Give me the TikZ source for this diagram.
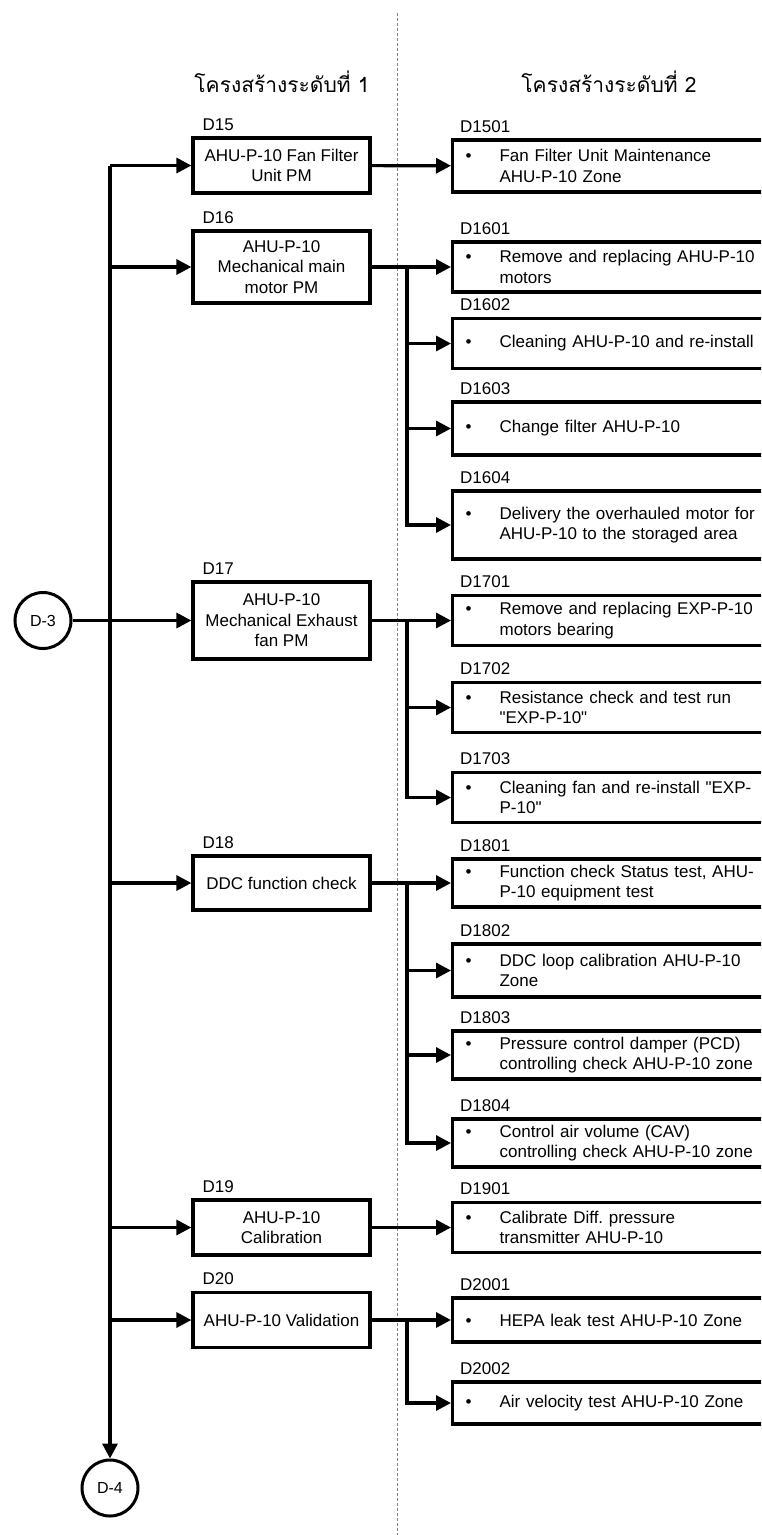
\documentclass[tikz,border=0pt]{standalone}
\usepackage{fontspec}
\setmainfont{Liberation Sans}[Ligatures=TeXOff]
\newfontfamily\thaifont[Script=Thai]{Loma}
\usetikzlibrary{arrows.meta,positioning}
\newcommand{\bul}{\llap{\textbullet\hspace{28pt}}}

\begin{document}
\begin{tikzpicture}[
  x=1pt, y=-1pt,
  txt/.style={font=\fontsize{17}{20.5}\selectfont},
  task/.style={txt,draw,line width=3.2pt,minimum width=177pt,minimum height=55pt,align=center,inner sep=2pt},
  sub/.style={txt,draw,line width=3.2pt,anchor=west,text width=275pt,inner xsep=47pt,inner ysep=2pt,minimum height=50pt,align=left},
  lbl/.style={txt,anchor=base west,inner sep=0pt},
  idtag/.style={label={[lbl,xshift=11pt,yshift=6pt]north west:#1}},
  subtag/.style={label={[lbl,xshift=9pt,yshift=6pt]north west:#1}},
  conn/.style={draw,circle,line width=3pt,minimum size=56pt,inner sep=0pt,font=\fontsize{16}{16}\selectfont},
  head/.style={font=\thaifont\fontsize{21}{21}\selectfont},
  arr/.style={line width=3.2pt,-{Triangle[length=15pt,width=15pt]}},
  divider/.style={gray,line width=0.6pt,dash pattern=on 3pt off 2pt}
]
  \useasboundingbox[fill=white] (0,0) rectangle (761,1535);
  \clip (0,0) rectangle (761,1535);

  \draw[divider] (397,13) -- (397,1535);

  % headers
  \node[head] (head1) at (282,82) {โครงสร้างระดับที่ 1};
  \node[head] (head2) at (609,82) {โครงสร้างระดับที่ 2};

  % level 1
  \node[task,idtag=D15] (d15) at (281.5,165.5) {AHU-P-10 Fan Filter\\Unit PM};
  \node[task,idtag=D16,minimum height=72pt] (d16) at (281.5,267) {AHU-P-10\\Mechanical main\\motor PM};
  \node[task,idtag=D17,minimum height=77pt] (d17) at (281.5,620.5) {AHU-P-10\\Mechanical Exhaust\\fan PM};
  \node[task,idtag=D18,minimum height=54pt] (d18) at (281.5,883) {DDC function check};
  \node[task,idtag=D19] (d19) at (281.5,1227.5) {AHU-P-10\\Calibration};
  \node[task,idtag=D20] (d20) at (281.5,1320) {AHU-P-10 Validation};

  \node[conn] (d3) at (43,620.5) {D-3};
  \node[conn] (d4) at (110,1488) {D-4};

  % level 2
  \node[sub,subtag=D1501,minimum height=52pt] (d1501) at (451,166) {\bul Fan Filter Unit Maintenance\\AHU-P-10 Zone};
  \node[sub,subtag=D1601] (d1601) at (451,267) {\bul Remove and replacing AHU-P-10\\motors};
  \node[sub,subtag=D1602] (d1602) at (451,343.5) {\bul Cleaning AHU-P-10 and re-install};
  \node[sub,subtag=D1603,minimum height=53pt] (d1603) at (451,428.5) {\bul Change filter AHU-P-10};
  \node[sub,subtag=D1604,minimum height=68pt] (d1604) at (451,525) {\bul Delivery the overhauled motor for\\AHU-P-10 to the storaged area};
  \node[sub,subtag=D1701] (d1701) at (451,620.5) {\bul Remove and replacing EXP-P-10\\motors bearing};
  \node[sub,subtag=D1702] (d1702) at (451,707.5) {\bul Resistance check and test run\\"EXP-P-10"};
  \node[sub,subtag=D1703] (d1703) at (451,797.5) {\bul Cleaning fan and re-install "EXP-\\P-10"};
  \node[sub,subtag=D1801,minimum height=48pt] (d1801) at (451,883) {\bul Function check Status test, AHU-\\P-10 equipment test};
  \node[sub,subtag=D1802,minimum height=53pt] (d1802) at (451,970.5) {\bul DDC loop calibration AHU-P-10\\Zone};
  \node[sub,subtag=D1803,minimum height=48pt] (d1803) at (451,1055) {\bul Pressure control damper (PCD)\\controlling check AHU-P-10 zone};
  \node[sub,subtag=D1804,minimum height=48pt] (d1804) at (451,1143) {\bul Control air volume (CAV)\\controlling check AHU-P-10 zone};
  \node[sub,subtag=D1901] (d1901) at (451,1227.5) {\bul Calibrate Diff.\ pressure\\transmitter AHU-P-10};
  \node[sub,subtag=D2001,minimum height=44pt] (d2001) at (451,1320) {\bul HEPA leak test AHU-P-10 Zone};
  \node[sub,subtag=D2002,minimum height=42pt] (d2002) at (451,1403) {\bul Air velocity test AHU-P-10 Zone};

  % trunk
  \coordinate (t0) at (d4.north |- d15.west);
  \draw[arr] (t0) -- (d4);
  \draw[arr] (t0) -- (d15);
  \foreach \n in {16,18,19,20}
    \draw[arr] (t0 |- d\n.west) -- (d\n);
  \draw[arr] (d3) -- (d17);

  % branches
  \draw[arr] (d15) -- (d1501);
  \draw[arr] (d16) -- (d1601);
  \draw[arr] (d17) -- (d1701);
  \draw[arr] (d18) -- (d1801);
  \draw[arr] (d19) -- (d1901);
  \draw[arr] (d20) -- (d2001);
  \coordinate (b16) at (407,267);
  \coordinate (b17) at (407,620.5);
  \coordinate (b18) at (407,883);
  \coordinate (b20) at (407,1320);
  \foreach \n in {1602,1603,1604}
    \draw[arr] (b16) |- (d\n);
  \foreach \n in {1702,1703}
    \draw[arr] (b17) |- (d\n);
  \foreach \n in {1802,1803,1804}
    \draw[arr] (b18) |- (d\n);
  \draw[arr] (b20) |- (d2002);
\end{tikzpicture}
\end{document}
